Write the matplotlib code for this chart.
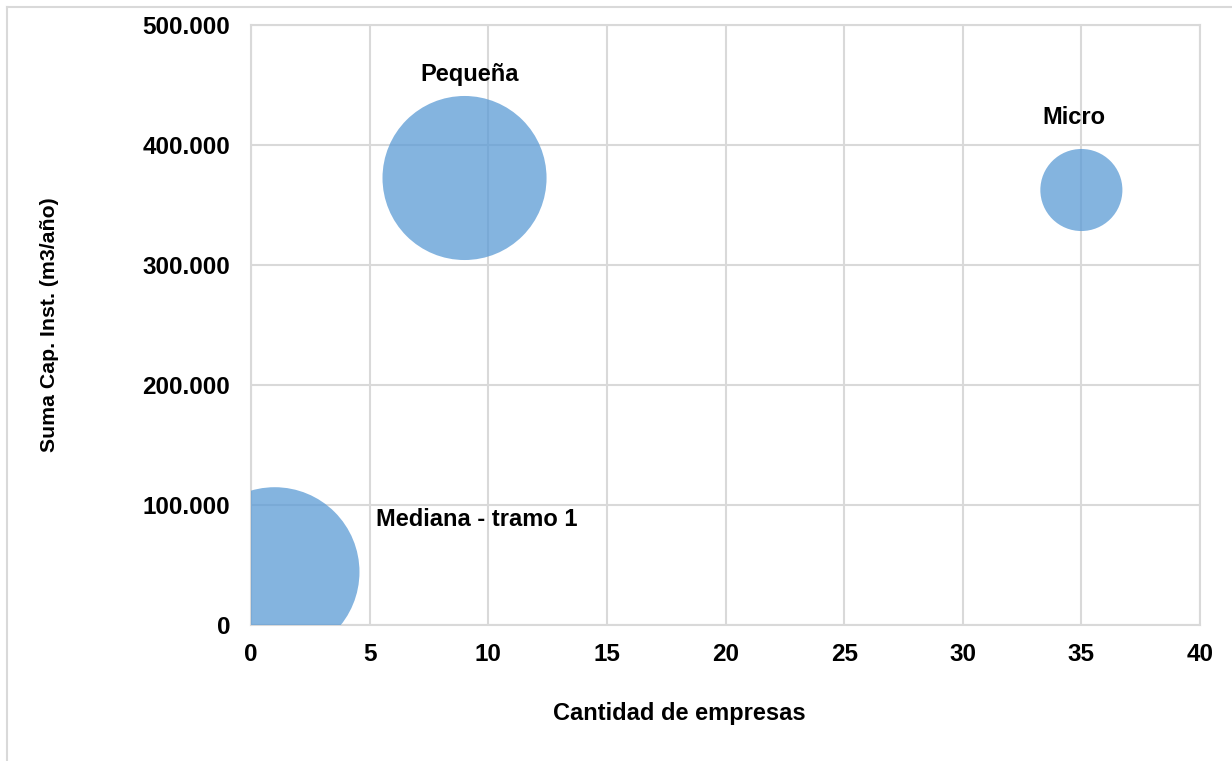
import matplotlib.pyplot as plt
from matplotlib.ticker import FuncFormatter, MultipleLocator
from matplotlib.lines import Line2D

plt.rcParams['font.family'] = ['Liberation Sans', 'DejaVu Sans']
plt.rcParams['font.weight'] = 'bold'

# tramos de tamaño de empresa
tramos = ['Mediana - tramo 1', 'Pequeña', 'Micro']
cantidad = [1, 9, 35]
suma_cap = [44200, 372500, 362500]
# capacidad promedio por empresa (tamaño de burbuja)
cap_promedio = [44200, 41400, 10360]

# desplazamiento de cada etiqueta respecto del centro de la burbuja (px)
offsets = [(202, 52), (5, 103), (-7, 73)]

fig = plt.figure(figsize=(12.32, 7.61), dpi=100)
ax = fig.add_axes([251 / 1232, 136 / 761, 949 / 1232, 600 / 761])

gris = '#D9D9D9'
ax.grid(True, color=gris, linewidth=1.5, zorder=0)
for s in ax.spines.values():
    s.set_color(gris)
    s.set_linewidth(1.5)

ax.scatter(cantidad, suma_cap, s=[v * 0.337 for v in cap_promedio],
           color='#5B9BD5', alpha=0.75, edgecolors='none', zorder=3)

for t, x, y, off in zip(tramos, cantidad, suma_cap, offsets):
    ax.annotate(t, (x, y), xytext=off, textcoords='offset pixels',
                ha='center', va='center', fontsize=17, fontweight='bold')

ax.set_xlim(0, 40)
ax.set_ylim(0, 500000)
ax.xaxis.set_major_locator(MultipleLocator(5))
ax.yaxis.set_major_locator(MultipleLocator(100000))
ax.yaxis.set_major_formatter(FuncFormatter(lambda v, p: f'{v:,.0f}'.replace(',', '.')))
ax.tick_params(length=0, labelsize=17.5)
ax.tick_params(axis='x', pad=13)
ax.tick_params(axis='y', pad=15)

ax.set_xlabel('Cantidad de empresas', fontsize=17, fontweight='bold', labelpad=26)
ax.xaxis.label.set_x(0.451)
ax.set_ylabel('Suma Cap. Inst. (m3/año)', fontsize=15.3, fontweight='bold', labelpad=60)

# borde del área del gráfico
fig.add_artist(Line2D([7 / 1232, 1.0], [1 - 7 / 761, 1 - 7 / 761], color=gris, lw=1.5))
fig.add_artist(Line2D([7 / 1232, 7 / 1232], [0, 1 - 7 / 761], color=gris, lw=1.5))

fig.savefig('out.png', dpi=100)
